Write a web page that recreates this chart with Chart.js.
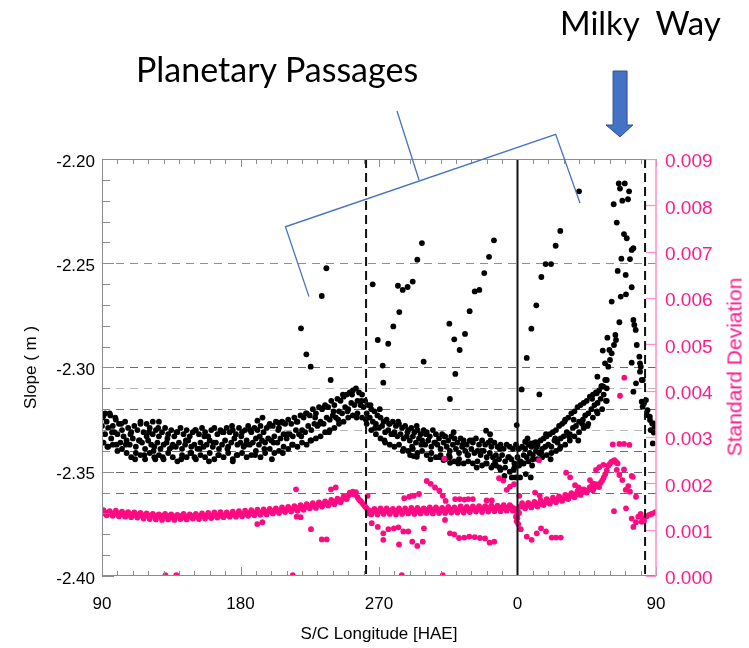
<!DOCTYPE html>
<html>
<head>
<meta charset="utf-8">
<script src="https://cdn.jsdelivr.net/npm/chart.js@4.4.1/dist/chart.umd.min.js"></script>
<style>
  html, body { margin: 0; padding: 0; background: #fff; }
  #wrap { position: relative; width: 749px; height: 648px; overflow: hidden; background: #fff; }
  canvas { position: absolute; left: 0; top: 0; }
  .note { position: absolute; font-family: Lato, "Open Sans", sans-serif; color: #000; line-height: 1; white-space: pre; }
  #sd { position: absolute; left: 734px; top: 367px; transform: translate(-50%, -50%) rotate(-90deg);
        font-family: "Liberation Sans", Arial, sans-serif; font-size: 21px; line-height: 1; color: #ff1a8c; white-space: nowrap; }
</style>
</head>
<body>
<div id="wrap">
  <canvas id="c" width="749" height="648"></canvas>
  <div class="note" id="pp" style="left:136px; top:52px; font-size:34px;">Planetary Passages</div>
  <div class="note" id="mw" style="left:560px; top:6px; font-size:33px;">Milky  Way</div>
  <div id="sd">Standard Deviation</div>
</div>
<script>
// ---------- axis ticks ----------
const xTickValues = [90, 180, 270, 360, 450];
const xTickLabels = ['90', '180', '270', '0', '90'];
const yTickValues = [-2.40, -2.35, -2.30, -2.25, -2.20];
const yTickLabels = ['-2.40', '-2.35', '-2.30', '-2.25', '-2.20'];
const y2TickValues = [0, 0.001, 0.002, 0.003, 0.004, 0.005, 0.006, 0.007, 0.008, 0.009];
const y2TickLabels = ['0.000', '0.001', '0.002', '0.003', '0.004', '0.005', '0.006', '0.007', '0.008', '0.009'];

// reference lines
const hLines = [-2.25, -2.30, -2.31, -2.32, -2.33, -2.34, -2.35, -2.36];
const vDashed = [261.6, 442.9];
const vSolid = [360];

// ---------- slope (black) : [longitude (unwrapped, 90..450), slope] ----------
const blackBandMid = [[90,-2.328],[92,-2.332],[94,-2.329],[96,-2.334],[98,-2.331],[100,-2.332],[102,-2.336],[104,-2.333],[106,-2.335],[108,-2.337],
[110,-2.334],[112,-2.338],[114,-2.335],[116,-2.336],[118,-2.339],[120,-2.335],[122,-2.337],[124,-2.338],[126,-2.336],[128,-2.339],
[130,-2.337],[132,-2.336],[134,-2.339],[136,-2.337],[138,-2.338],[140,-2.336],[142,-2.339],[144,-2.337],[146,-2.335],[148,-2.338],
[150,-2.337],[152,-2.339],[154,-2.336],[156,-2.338],[158,-2.337],[160,-2.335],[162,-2.338],[164,-2.336],[166,-2.339],[168,-2.337],
[170,-2.335],[172,-2.338],[174,-2.336],[176,-2.334],[178,-2.337],[180,-2.336],[182,-2.338],[184,-2.335],[186,-2.337],[188,-2.336],
[190,-2.334],[192,-2.337],[194,-2.335],[196,-2.336],[198,-2.334],[200,-2.335],[202,-2.333],[204,-2.336],[206,-2.334],[208,-2.332],
[210,-2.334],[212,-2.332],[214,-2.333],[216,-2.330],[218,-2.332],[220,-2.330],[222,-2.331],[224,-2.328],[226,-2.330],[228,-2.327],
[230,-2.328],[232,-2.326],[234,-2.327],[236,-2.324],[238,-2.325],[240,-2.323],[242,-2.324],[244,-2.321],[246,-2.322],[248,-2.319],
[250,-2.320],[252,-2.317],[254,-2.318],[256,-2.316],[258,-2.318],[260,-2.319],[262,-2.322],[264,-2.324],[266,-2.326],[268,-2.327],
[270,-2.329],[272,-2.328],[274,-2.331],[276,-2.330],[278,-2.332],[280,-2.331],[282,-2.333],[284,-2.332],[286,-2.334],[288,-2.333],
[290,-2.335],[292,-2.333],[294,-2.336],[296,-2.334],[298,-2.335],[300,-2.337],[302,-2.335],[304,-2.338],[306,-2.336],[308,-2.337],
[310,-2.339],[312,-2.336],[314,-2.338],[316,-2.340],[318,-2.337],[320,-2.339],[322,-2.341],[324,-2.338],[326,-2.340],[328,-2.342],
[330,-2.339],[332,-2.341],[334,-2.340],[336,-2.342],[338,-2.340],[340,-2.343],[342,-2.341],[344,-2.343],[346,-2.342],[348,-2.344],
[350,-2.342],[352,-2.345],[354,-2.343],[356,-2.344],[358,-2.346],[360,-2.343],[362,-2.345],[364,-2.342],[366,-2.343],[368,-2.341],
[370,-2.342],[372,-2.340],[374,-2.341],[376,-2.339],[378,-2.338],[380,-2.337],[382,-2.338],[384,-2.335],[386,-2.336],[388,-2.334],
[390,-2.333],[392,-2.331],[394,-2.332],[396,-2.329],[398,-2.328],[400,-2.326],[402,-2.327],[404,-2.323],[406,-2.322],[408,-2.320],
[410,-2.318],[412,-2.317],[414,-2.315],[416,-2.313],[418,-2.310]];

const blackBandUpper = [[91,-2.323],[93,-2.326],[95,-2.322],[97,-2.328],[99,-2.325],[101,-2.327],[103,-2.330],[105,-2.326],[107,-2.329],[109,-2.331],
[111,-2.328],[113,-2.330],[115,-2.327],[117,-2.331],[119,-2.333],[121,-2.329],[123,-2.332],[125,-2.330],[127,-2.333],[129,-2.331],
[131,-2.329],[133,-2.332],[135,-2.330],[137,-2.333],[139,-2.331],[141,-2.329],[143,-2.332],[145,-2.330],[147,-2.333],[149,-2.331],
[151,-2.330],[153,-2.332],[155,-2.329],[157,-2.331],[159,-2.333],[161,-2.330],[163,-2.329],[165,-2.332],[167,-2.330],[169,-2.331],
[171,-2.329],[173,-2.331],[175,-2.330],[177,-2.332],[179,-2.329],[181,-2.331],[183,-2.330],[185,-2.328],[187,-2.331],[189,-2.329],
[191,-2.330],[193,-2.328],[195,-2.331],[197,-2.329],[199,-2.327],[201,-2.328],[203,-2.326],[205,-2.329],[207,-2.326],[209,-2.327],
[211,-2.325],[213,-2.327],[215,-2.324],[217,-2.326],[219,-2.323],[221,-2.324],[223,-2.322],[225,-2.323],[227,-2.320],[229,-2.322],
[231,-2.319],[233,-2.320],[235,-2.318],[237,-2.319],[239,-2.316],[241,-2.318],[243,-2.315],[245,-2.316],[247,-2.314],[249,-2.313],
[251,-2.312],[253,-2.311],[255,-2.310],[257,-2.312],[259,-2.313],[261,-2.316],[263,-2.318],[265,-2.320],[267,-2.321],[269,-2.323],
[271,-2.324],[273,-2.326],[275,-2.325],[277,-2.327],[279,-2.326],[281,-2.328],[283,-2.327],[285,-2.329],[287,-2.328],[289,-2.330],
[291,-2.329],[293,-2.331],[295,-2.330],[297,-2.332],[299,-2.330],[301,-2.331],[303,-2.333],[305,-2.330],[307,-2.332],[309,-2.334],
[311,-2.332],[313,-2.333],[315,-2.335],[317,-2.333],[319,-2.334],[321,-2.336],[323,-2.334],[325,-2.335],[327,-2.337],[329,-2.335],
[331,-2.336],[333,-2.334],[335,-2.337],[337,-2.335],[339,-2.337],[341,-2.336],[343,-2.338],[345,-2.336],[347,-2.338],[349,-2.337],
[351,-2.339],[353,-2.337],[355,-2.338],[357,-2.339],[359,-2.337],[361,-2.339],[363,-2.338],[365,-2.339],[367,-2.337],[369,-2.338],
[371,-2.336],[373,-2.337],[375,-2.335],[377,-2.334],[379,-2.333],[381,-2.332],[383,-2.331],[385,-2.330],[387,-2.328],[389,-2.327],
[391,-2.325],[393,-2.324],[395,-2.322],[397,-2.321],[399,-2.319],[401,-2.318],[403,-2.317],[405,-2.316],[407,-2.314],[409,-2.313],
[411,-2.312],[413,-2.311],[415,-2.309],[417,-2.306]];

const blackBandLower = [[91,-2.336],[94,-2.338],[97,-2.337],[100,-2.340],[103,-2.339],[106,-2.341],[109,-2.343],[112,-2.341],[115,-2.342],[118,-2.344],
[121,-2.341],[124,-2.343],[127,-2.342],[130,-2.344],[133,-2.341],[136,-2.343],[139,-2.345],[142,-2.342],[145,-2.343],[148,-2.341],
[151,-2.344],[154,-2.342],[157,-2.343],[160,-2.341],[163,-2.344],[166,-2.342],[169,-2.343],[172,-2.341],[175,-2.344],[178,-2.342],
[181,-2.341],[184,-2.343],[187,-2.342],[190,-2.340],[193,-2.343],[196,-2.341],[199,-2.339],[202,-2.341],[205,-2.340],[208,-2.338],
[211,-2.339],[214,-2.337],[217,-2.338],[220,-2.336],[223,-2.337],[226,-2.335],[229,-2.334],[232,-2.333],[235,-2.331],[238,-2.330],
[241,-2.329],[244,-2.327],[247,-2.326],[250,-2.324],[253,-2.323],[256,-2.322],[259,-2.324],[262,-2.327],[265,-2.330],[268,-2.332],
[271,-2.334],[274,-2.336],[277,-2.337],[280,-2.338],[283,-2.337],[286,-2.339],[289,-2.340],[292,-2.339],[295,-2.341],[298,-2.340],
[301,-2.342],[304,-2.341],[307,-2.343],[310,-2.342],[313,-2.344],[316,-2.343],[319,-2.345],[322,-2.344],[325,-2.346],[328,-2.345],
[331,-2.346],[334,-2.345],[337,-2.347],[340,-2.346],[343,-2.348],[346,-2.347],[349,-2.349],[352,-2.348],[355,-2.350],[358,-2.348],
[361,-2.347],[364,-2.346],[367,-2.345],[370,-2.344],[373,-2.344],[376,-2.343],[379,-2.342],[382,-2.341],[385,-2.340],[388,-2.338],
[391,-2.337],[394,-2.335],[397,-2.333],[400,-2.331],[403,-2.329],[406,-2.327],[409,-2.324],[412,-2.322],[415,-2.320],[418,-2.316]];

const blackBandScatter = [[90.5,-2.324],[93.5,-2.338],[96.5,-2.331],[99.5,-2.337],[102.5,-2.327],[105.5,-2.337],[108.5,-2.332],[111.5,-2.344],
[114.5,-2.335],[117.5,-2.342],[120.5,-2.331],[123.5,-2.340],[126.5,-2.329],[129.5,-2.343],[132.5,-2.334],[135.5,-2.338],[138.5,-2.331],
[141.5,-2.344],[144.5,-2.335],[147.5,-2.341],[150.5,-2.330],[153.5,-2.339],[156.5,-2.333],[159.5,-2.345],[162.5,-2.336],[165.5,-2.342],
[168.5,-2.331],[171.5,-2.339],[174.5,-2.328],[177.5,-2.342],[180.5,-2.333],[183.5,-2.337],[186.5,-2.330],[189.5,-2.342],[192.5,-2.333],
[195.5,-2.339],[198.5,-2.328],[201.5,-2.336],[204.5,-2.330],[207.5,-2.341],[210.5,-2.332],[213.5,-2.337],[216.5,-2.326],[219.5,-2.333],
[222.5,-2.322],[225.5,-2.335],[228.5,-2.324],[231.5,-2.327],[234.5,-2.319],[237.5,-2.331],[240.5,-2.321],[243.5,-2.325],[246.5,-2.313],
[249.5,-2.321],[252.5,-2.313],[255.5,-2.324],[258.5,-2.316],[261.5,-2.325],[264.5,-2.318],[267.5,-2.329],[270.5,-2.320],[273.5,-2.335],
[276.5,-2.327],[279.5,-2.332],[282.5,-2.326],[285.5,-2.340],[288.5,-2.331],[291.5,-2.338],[294.5,-2.328],[297.5,-2.337],[300.5,-2.332],
[303.5,-2.344],[306.5,-2.336],[309.5,-2.343],[312.5,-2.333],[315.5,-2.342],[318.5,-2.331],[321.5,-2.346],[324.5,-2.337],[327.5,-2.342],
[330.5,-2.335],[333.5,-2.348],[336.5,-2.340],[339.5,-2.346],[342.5,-2.335],[345.5,-2.345],[348.5,-2.339],[351.5,-2.352],[354.5,-2.343],
[357.5,-2.349],[360.5,-2.339],[363.5,-2.346],[366.5,-2.334],[369.5,-2.347],[372.5,-2.338],[375.5,-2.341],[378.5,-2.332],[381.5,-2.344],
[384.5,-2.334],[387.5,-2.339],[390.5,-2.326],[393.5,-2.333],[396.5,-2.325],[399.5,-2.335],[402.5,-2.325],[405.5,-2.328],[408.5,-2.315],
[411.5,-2.321],[414.5,-2.309],[417.5,-2.316]];

const blackEdges = [[92.1,-2.322],[95.4,-2.323],[98.6,-2.324],[115.0,-2.326],[119.0,-2.327],[123.0,-2.326],[127.0,-2.326],[124.6,-2.344],
[150.1,-2.343],[175.0,-2.345],[200.4,-2.344],[191.0,-2.3255],[194.3,-2.324],[204.7,-2.3265],[207.6,-2.3265],
[290.2,-2.342],[292.5,-2.3425],[294.6,-2.3428],[311.9,-2.3444],[316.2,-2.3457],[344.3,-2.3468],[348.2,-2.3479],
[356.3,-2.3527],[358.9,-2.3527],[361.7,-2.3527],[365.4,-2.3511],[368.6,-2.3527],[339.6,-2.3303],[342.2,-2.332],
[359.5,-2.3276],[365.0,-2.3356],[368.5,-2.3364],[372.0,-2.3358]];

const blackArcs = [[219.3,-2.2812],[222.8,-2.2937],[225.6,-2.2996],[232.8,-2.2657],[235.8,-2.2524],[238.6,-2.3060],
[265.9,-2.2601],[269.2,-2.2868],[272.4,-2.2991],[272.8,-2.3073],[276.0,-2.2886],[279.3,-2.2803],[283.2,-2.2734],[282.3,-2.2608],
[285.4,-2.2628],[288.6,-2.2614],[291.9,-2.2588],[294.9,-2.2483],[297.9,-2.2403],[299.0,-2.2972],
[315.7,-2.2790],[316.1,-2.3151],[318.9,-2.2865],[319.6,-2.3031],[322.4,-2.2916],[325.9,-2.2839],[328.9,-2.2730],[332.2,-2.2635],
[335.2,-2.2628],[338.4,-2.2547],[341.5,-2.2469],[344.7,-2.2390],
[362.7,-2.3105],[366.0,-2.2954],[369.0,-2.2814],[372.2,-2.2702],[374.2,-2.3129],[375.5,-2.2566],[378.3,-2.2504],[381.8,-2.2504],
[384.8,-2.2416],[387.8,-2.2345],[400.0,-2.2155]];

const blackMilkyWay = [[411.5,-2.3124],[411.9,-2.3044],[415.4,-2.2919],[415.8,-2.3092],[416.9,-2.2980],[418.0,-2.3060],[418.4,-2.2857],
[419.0,-2.2996],[419.7,-2.2916],[420.1,-2.2964],[421.2,-2.2932],[422.7,-2.2892],[423.6,-2.2844],[424.0,-2.2868],[426.2,-2.2783],
[421.2,-2.2684],[427.1,-2.2660],[430.5,-2.2649],[434.2,-2.2615],[430.3,-2.2556],[425.1,-2.2537],[427.5,-2.2478],[433.1,-2.2480],
[434.2,-2.2436],[435.3,-2.2428],[431.0,-2.2380],[429.2,-2.2360],[424.5,-2.2305],[422.5,-2.2217],[428.1,-2.2200],[431.8,-2.2193],
[432.5,-2.2155],[426.6,-2.2142],[425.8,-2.2117],[429.7,-2.2117],
[435.3,-2.2772],[435.9,-2.2796],[436.8,-2.2820],[437.5,-2.2892],[434.2,-2.2977],[439.6,-2.2980],[439.2,-2.2948],[439.6,-2.3020],
[440.7,-2.3060],[437.0,-2.3076],[440.1,-2.2996],[441.4,-2.3060],[440.7,-2.3164],[441.3,-2.3188],[442.2,-2.3172],[435.3,-2.3116],
[443.5,-2.3156],[444.0,-2.3228],[444.5,-2.3205],[446.0,-2.3236],[446.1,-2.3252],[446.5,-2.3300],[447.5,-2.3268],[447.9,-2.3364],
[448.3,-2.3268],[448.5,-2.3312],[449.0,-2.3285],[450.0,-2.3284]];

// ---------- standard deviation (pink) : [longitude, std] ----------
const pinkBandA = [[90,0.00138],[92,0.00135],[94,0.00137],[96,0.00134],[98,0.00136],[100,0.00134],[102,0.00136],[104,0.00133],[106,0.00135],[108,0.00132],
[110,0.00134],[112,0.00131],[114,0.00133],[116,0.00130],[118,0.00132],[120,0.00130],[122,0.00131],[124,0.00129],[126,0.00131],[128,0.00128],
[130,0.00130],[132,0.00128],[134,0.00130],[136,0.00127],[138,0.00129],[140,0.00128],[142,0.00130],[144,0.00127],[146,0.00129],[148,0.00128],
[150,0.00130],[152,0.00128],[154,0.00130],[156,0.00129],[158,0.00131],[160,0.00129],[162,0.00131],[164,0.00130],[166,0.00132],[168,0.00130],
[170,0.00132],[172,0.00131],[174,0.00133],[176,0.00132],[178,0.00134],[180,0.00133],[182,0.00135],[184,0.00134],[186,0.00136],[188,0.00135],
[190,0.00137],[192,0.00136],[194,0.00138],[196,0.00137],[198,0.00139],[200,0.00139],[202,0.00141],[204,0.00140],[206,0.00142],[208,0.00142],
[210,0.00144],[212,0.00143],[214,0.00145],[216,0.00145],[218,0.00147],[220,0.00147],[222,0.00149],[224,0.00150],[226,0.00152],[228,0.00151],
[230,0.00153],[232,0.00154],[234,0.00156],[236,0.00156],[238,0.00158],[240,0.00159],[242,0.00161],[244,0.00162],[246,0.00165],[248,0.00169],
[250,0.00173],[252,0.00177],[254,0.00176],[256,0.00170],[258,0.00162],[260,0.00154],[262,0.00146],[264,0.00141],[266,0.00139],[268,0.00141],
[270,0.00139],[272,0.00141],[274,0.00140],[276,0.00141],[278,0.00139],[280,0.00141],[282,0.00140],[284,0.00141],[286,0.00139],[288,0.00141],
[290,0.00140],[292,0.00142],[294,0.00140],[296,0.00142],[298,0.00141],[300,0.00143],[302,0.00141],[304,0.00143],[306,0.00142],[308,0.00143],
[310,0.00141],[312,0.00143],[314,0.00142],[316,0.00144],[318,0.00142],[320,0.00144],[322,0.00143],[324,0.00145],[326,0.00143],[328,0.00145],
[330,0.00144],[332,0.00146],[334,0.00144],[336,0.00146],[338,0.00145],[340,0.00147],[342,0.00145],[344,0.00147],[346,0.00146],[348,0.00148],
[350,0.00146],[352,0.00148],[354,0.00147],[356,0.00149],[358,0.00146],[360,0.00140],[362,0.00150],[364,0.00152],[366,0.00151],[368,0.00153],
[370,0.00154],[372,0.00156],[374,0.00155],[376,0.00158],[378,0.00159],[380,0.00161],[382,0.00162],[384,0.00164],[386,0.00165],[388,0.00167],
[390,0.00168],[392,0.00171],[394,0.00172],[396,0.00175],[398,0.00176],[400,0.00179],[402,0.00181],[404,0.00183],[406,0.00186],[408,0.00188],
[410,0.00191],[412,0.00195],[414,0.00201],[416,0.00212],[418,0.00228],[420,0.00242],[422,0.00248]];

const pinkBandB = [[91,0.00142],[93,0.00131],[95,0.00140],[97,0.00130],[99,0.00141],[101,0.00129],[103,0.00139],[105,0.00128],[107,0.00138],[109,0.00127],
[111,0.00137],[113,0.00126],[115,0.00136],[117,0.00124],[119,0.00135],[121,0.00123],[123,0.00134],[125,0.00122],[127,0.00133],[129,0.00121],
[131,0.00134],[133,0.00122],[135,0.00133],[137,0.00121],[139,0.00132],[141,0.00123],[143,0.00134],[145,0.00122],[147,0.00133],[149,0.00124],
[151,0.00134],[153,0.00123],[155,0.00135],[157,0.00124],[159,0.00136],[161,0.00125],[163,0.00137],[165,0.00126],[167,0.00138],[169,0.00127],
[171,0.00137],[173,0.00128],[175,0.00139],[177,0.00128],[179,0.00140],[181,0.00129],[183,0.00141],[185,0.00130],[187,0.00142],[189,0.00131],
[191,0.00143],[193,0.00132],[195,0.00144],[197,0.00133],[199,0.00145],[201,0.00135],[203,0.00146],[205,0.00136],[207,0.00148],[209,0.00138],
[211,0.00149],[213,0.00139],[215,0.00151],[217,0.00141],[219,0.00153],[221,0.00143],[223,0.00155],[225,0.00146],[227,0.00157],[229,0.00147],
[231,0.00159],[233,0.00150],[235,0.00161],[237,0.00152],[239,0.00164],[241,0.00155],[243,0.00167],[245,0.00159],[247,0.00172],[249,0.00166],
[251,0.00180],[253,0.00182],[255,0.00181],[257,0.00165],[259,0.00158],[261,0.00150],[263,0.00135],[265,0.00133],[267,0.00145],[269,0.00133],
[271,0.00146],[273,0.00134],[275,0.00146],[277,0.00134],[279,0.00145],[281,0.00133],[283,0.00146],[285,0.00134],[287,0.00146],[289,0.00135],
[291,0.00147],[293,0.00134],[295,0.00147],[297,0.00135],[299,0.00146],[301,0.00136],[303,0.00148],[305,0.00135],[307,0.00148],[309,0.00136],
[311,0.00147],[313,0.00136],[315,0.00149],[317,0.00137],[319,0.00148],[321,0.00137],[323,0.00150],[325,0.00137],[327,0.00149],[329,0.00138],
[331,0.00150],[333,0.00139],[335,0.00151],[337,0.00138],[339,0.00151],[341,0.00139],[343,0.00152],[345,0.00140],[347,0.00152],[349,0.00140],
[351,0.00153],[353,0.00141],[355,0.00153],[357,0.00141],[359,0.00128],[361,0.00136],[363,0.00157],[365,0.00146],[367,0.00158],[369,0.00148],
[371,0.00160],[373,0.00150],[375,0.00163],[377,0.00153],[379,0.00166],[381,0.00156],[383,0.00169],[385,0.00159],[387,0.00172],[389,0.00162],
[391,0.00175],[393,0.00166],[395,0.00179],[397,0.00170],[399,0.00183],[401,0.00175],[403,0.00187],[405,0.00180],[407,0.00192],[409,0.00185],
[411,0.00198],[413,0.00192],[415,0.00206],[417,0.00220],[419,0.00238],[421,0.00246],[423,0.00250],
[360,0.00125],[360.5,0.00112],[359.5,0.00118]];

const pinkOutliers = [[190.9,0.00112],[194.2,0.00116],
[216.1,0.00187],[216.5,0.00128],[219.1,0.00127],[225.8,0.00101],[232.8,0.00079],[236.0,0.00079],[238.8,0.00187],[241.9,0.00191],
[262.6,0.00173],[265.3,0.00114],[269.2,0.00106],[272.8,0.00092],[272.8,0.00078],[276.1,0.00101],[279.7,0.00103],[282.6,0.00105],
[283.0,0.00068],[285.8,0.00096],[289.0,0.00096],[291.6,0.00074],[294.9,0.00065],[298.4,0.00074],[299.2,0.00103],
[286.4,0.00168],[289.7,0.00171],[292.7,0.00173],[296.0,0.00177],
[301.0,0.00205],[303.6,0.00199],[306.4,0.00191],[309.2,0.00184],[311.4,0.00173],[313.3,0.00162],[312.9,0.00121],[312.4,0.00253],
[316.1,0.00092],[318.9,0.00090],[322.0,0.00082],[325.4,0.00083],[328.7,0.00085],[332.2,0.00084],[335.6,0.00082],[338.9,0.00081],
[341.9,0.00072],[344.9,0.00074],
[319.5,0.00166],[322.5,0.00166],[325.5,0.00165],[328.0,0.00166],[331.0,0.00166],[339.9,0.00163],[343.3,0.00163],
[348.0,0.00211],[350.8,0.00206],[353.0,0.00186],[355.1,0.00193],[357.7,0.00198],[361.2,0.00173],[359.9,0.00132],
[371.4,0.00180],[374.5,0.00173],[374.0,0.00250],
[362.1,0.00101],[366.0,0.00085],[369.2,0.00078],[372.5,0.00092],[375.3,0.00103],[378.5,0.00096],[382.2,0.00083],[385.0,0.00083],[388.1,0.00083],
[391.6,0.00223],[394.2,0.00213],[397.4,0.00196],[399.6,0.00191],[401.1,0.00187],[403.9,0.00182],[407.1,0.00207],[408.9,0.00200],
[411.0,0.00229],[413.2,0.00235],[415.8,0.00240],
[131.2,0.00002],[138.3,0.00002],[214.0,0.00002],[284.8,0.00002],[311.4,0.00002]];

const pinkMilkyWay = [[426.6,0.00389],[429.4,0.00428],[421.9,0.00284],[426.2,0.00285],[429.2,0.00285],[432.7,0.00283],
[424.5,0.00229],[426.2,0.00218],[428.1,0.00207],[429.2,0.00230],[430.3,0.00186],[432.0,0.00194],[433.1,0.00182],[434.2,0.00216],
[434.9,0.00214],[437.0,0.00171],[422.7,0.00140],[430.5,0.00146],[434.2,0.00124],[435.3,0.00106],[437.0,0.00116],
[438.5,0.00128],[440.0,0.00134],[440.7,0.00117],[441.3,0.00125],[442.2,0.00119],[443.9,0.00129],[445.6,0.00132],[447.1,0.00134],
[449.3,0.00137],[450.0,0.00138],[424.0,0.00246],[425.0,0.00243]];

// ---------- annotation geometry (in data coordinates: longitude, slope) ----------
const bracketStem = [[281.7,-2.1770],[296.0,-2.2101]];
const bracketPath = [[224.5,-2.2660],[209.2,-2.2325],[384.8,-2.1882],[400.6,-2.2211]];
const arrowShaft = { lonLeft: 422.1, lonRight: 431.2, top: -2.1578, bottom: -2.1837 };
const arrowHead = { lonLeft: 417.5, lonRight: 435.0, lonTip: 426.6, tip: -2.1894 };

const toXY = (arr) => arr.map(p => ({ x: p[0], y: p[1] }));
const blackPts = toXY([].concat(blackBandMid, blackBandUpper, blackBandLower, blackBandScatter, blackEdges, blackArcs, blackMilkyWay));
const pinkPts = toXY([].concat(pinkBandA, pinkBandB, pinkOutliers, pinkMilkyWay));

const PINK = '#ff0a82';
const PINK_TEXT = '#ff1a8c';
const FONT = 'Liberation Sans, Arial, Helvetica, sans-serif';

const decor = {
  id: 'decor',
  beforeDatasetsDraw(chart) {
    const { ctx, chartArea: a, scales: { y } } = chart;
    ctx.save();
    ctx.lineWidth = 1.2;
    ctx.setLineDash([8, 6]);
    hLines.forEach(v => {
      const py = Math.round(y.getPixelForValue(v)) + 0.5;
      const light = (v === -2.31 || v === -2.33);
      ctx.strokeStyle = light ? '#b9b9b9' : (v === -2.25 ? '#8f8f8f' : '#6a6a6a');
      ctx.beginPath(); ctx.moveTo(a.left, py); ctx.lineTo(a.right, py); ctx.stroke();
    });
    ctx.restore();
  },
  afterDatasetsDraw(chart) {
    const { ctx, chartArea: a, scales: { x, y, y2 } } = chart;
    ctx.save();
    ctx.strokeStyle = '#111';
    ctx.lineWidth = 2;
    ctx.setLineDash([9, 5]);
    vDashed.forEach(v => {
      const px = x.getPixelForValue(v);
      ctx.beginPath(); ctx.moveTo(px, a.top); ctx.lineTo(px, a.bottom); ctx.stroke();
    });
    ctx.setLineDash([]);
    vSolid.forEach(v => {
      const px = x.getPixelForValue(v);
      ctx.beginPath(); ctx.moveTo(px, a.top); ctx.lineTo(px, a.bottom); ctx.stroke();
    });
    ctx.lineWidth = 1;
    ctx.strokeStyle = '#8c8c8c';
    ctx.beginPath();
    ctx.moveTo(a.right, a.top + 0.5); ctx.lineTo(a.left + 0.5, a.top + 0.5);
    ctx.lineTo(a.left + 0.5, a.bottom - 0.5); ctx.lineTo(a.right, a.bottom - 0.5);
    ctx.stroke();
    for (let v = 90; v <= 450; v += 10) {
      const px = Math.round(x.getPixelForValue(v)) + 0.5;
      const major = (v - 90) % 90 === 0;
      const lb = major ? 9 : 5, lt = major ? 8 : 5;
      ctx.beginPath();
      ctx.moveTo(px, a.bottom); ctx.lineTo(px, a.bottom - lb);
      ctx.moveTo(px, a.top); ctx.lineTo(px, a.top + lt);
      ctx.stroke();
    }
    for (let i = 0; i <= 20; i++) {
      const py = Math.round(y.getPixelForValue(-2.40 + i * 0.01)) + 0.5;
      const len = i % 5 === 0 ? 12 : 8;
      ctx.beginPath(); ctx.moveTo(a.left, py); ctx.lineTo(a.left + len, py); ctx.stroke();
    }
    ctx.strokeStyle = '#ff8fc8';
    ctx.lineWidth = 1.5;
    ctx.beginPath(); ctx.moveTo(a.right, a.top); ctx.lineTo(a.right, a.bottom); ctx.stroke();
    ctx.lineWidth = 1.2;
    y2TickValues.forEach(v => {
      const py = Math.round(y2.getPixelForValue(v)) + 0.5;
      ctx.beginPath(); ctx.moveTo(a.right, py); ctx.lineTo(a.right - 10, py); ctx.stroke();
    });
    ctx.restore();
  },
  afterDraw(chart) {
    const { ctx, scales: { x, y } } = chart;
    const P = (p) => [x.getPixelForValue(p[0]), y.getPixelForValue(p[1])];
    ctx.save();
    ctx.strokeStyle = '#4472c4';
    ctx.lineWidth = 1.3;
    ctx.beginPath();
    let p = P(bracketStem[0]); ctx.moveTo(p[0], p[1]);
    p = P(bracketStem[1]); ctx.lineTo(p[0], p[1]);
    bracketPath.forEach((q, i) => { const r = P(q); if (i === 0) ctx.moveTo(r[0], r[1]); else ctx.lineTo(r[0], r[1]); });
    ctx.stroke();
    const sl = x.getPixelForValue(arrowShaft.lonLeft), sr = x.getPixelForValue(arrowShaft.lonRight);
    const st = y.getPixelForValue(arrowShaft.top), sb = y.getPixelForValue(arrowShaft.bottom);
    const hl = x.getPixelForValue(arrowHead.lonLeft), hr = x.getPixelForValue(arrowHead.lonRight);
    const tx = x.getPixelForValue(arrowHead.lonTip), ty = y.getPixelForValue(arrowHead.tip);
    ctx.beginPath();
    ctx.moveTo(sl, st); ctx.lineTo(sr, st); ctx.lineTo(sr, sb); ctx.lineTo(hr, sb);
    ctx.lineTo(tx, ty); ctx.lineTo(hl, sb); ctx.lineTo(sl, sb); ctx.closePath();
    ctx.fillStyle = '#4472c4'; ctx.fill();
    ctx.strokeStyle = '#2f528f'; ctx.lineWidth = 1; ctx.stroke();
    ctx.restore();
  }
};

new Chart(document.getElementById('c'), {
  type: 'scatter',
  data: {
    datasets: [
      { label: 'Slope ( m )', data: blackPts, yAxisID: 'y', backgroundColor: '#000', borderWidth: 0, pointRadius: 2.9, pointHoverRadius: 2.9, order: 2 },
      { label: 'Standard Deviation', data: pinkPts, yAxisID: 'y2', backgroundColor: PINK, borderWidth: 0, pointRadius: 2.9, pointHoverRadius: 2.9, order: 1 }
    ]
  },
  options: {
    responsive: false,
    animation: false,
    devicePixelRatio: 1,
    layout: { padding: { top: 159, left: 0, right: 0, bottom: 0 } },
    plugins: { legend: { display: false }, tooltip: { enabled: false } },
    scales: {
      x: {
        type: 'linear', position: 'bottom', min: 90, max: 450,
        afterFit(s) { s.height = 72; },
        afterBuildTicks(s) { s.ticks = xTickValues.map(v => ({ value: v })); },
        ticks: { autoSkip: false, maxRotation: 0, padding: 18, color: '#000', font: { family: FONT, size: 17 },
                 callback: (v, i) => xTickLabels[i] },
        grid: { display: false, drawTicks: false },
        border: { display: false },
        title: { display: true, text: 'S/C Longitude [HAE]', color: '#000', font: { family: FONT, size: 17 }, padding: { top: 0, bottom: 3 } }
      },
      y: {
        type: 'linear', position: 'left', min: -2.40, max: -2.20,
        afterFit(s) { s.width = 102; },
        afterBuildTicks(s) { s.ticks = yTickValues.map(v => ({ value: v })); },
        ticks: { autoSkip: false, padding: 7, labelOffset: 3, color: '#000', font: { family: FONT, size: 17 },
                 callback: (v, i) => yTickLabels[i] },
        grid: { display: false, drawTicks: false },
        border: { display: false },
        title: { display: true, text: 'Slope ( m )', color: '#000', font: { family: FONT, size: 17 }, padding: { top: 21, bottom: 0 } }
      },
      y2: {
        type: 'linear', position: 'right', min: 0, max: 0.009,
        afterFit(s) { s.width = 93; },
        afterBuildTicks(s) { s.ticks = y2TickValues.map(v => ({ value: v })); },
        ticks: { autoSkip: false, padding: 9, labelOffset: 3, color: PINK_TEXT, font: { family: FONT, size: 19 },
                 callback: (v, i) => y2TickLabels[i] },
        grid: { display: false, drawTicks: false },
        border: { display: false },
        title: { display: false }
      }
    }
  },
  plugins: [decor]
});
</script>
</body>
</html>
